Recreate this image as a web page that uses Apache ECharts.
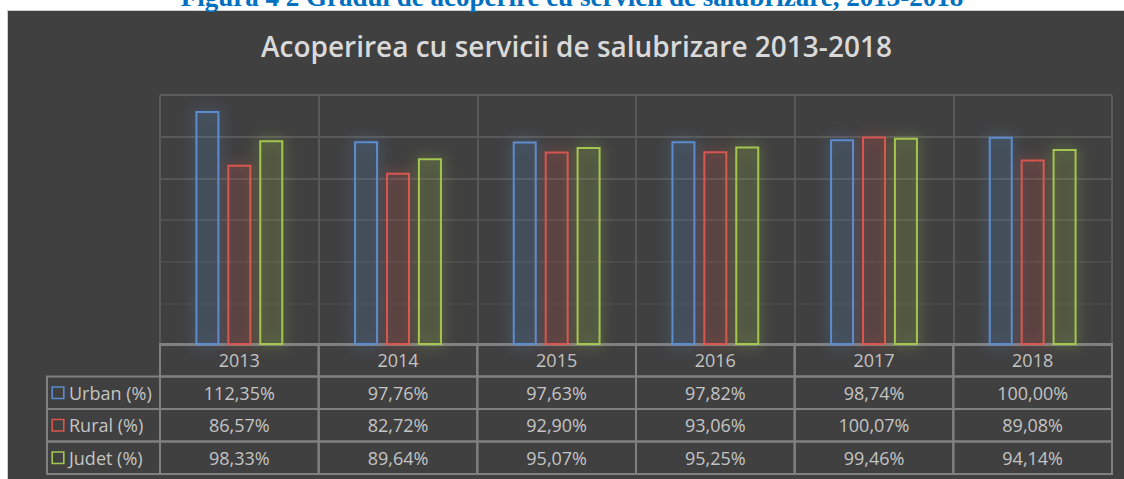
<!DOCTYPE html>
<html><head><meta charset="utf-8">
<script src="https://cdn.jsdelivr.net/npm/echarts@6/dist/echarts.min.js"></script>
<style>html,body{margin:0;padding:0;background:#fff}#c{width:1124px;height:479px}</style>
</head><body><div id="c"></div>
<script>
const caption = 'Figura 4 2 Gradul de acoperire cu servicii de salubrizare, 2013-2018';
const chartTitle = 'Acoperirea cu servicii de salubrizare 2013-2018';
const years = ['2013', '2014', '2015', '2016', '2017', '2018'];
const seriesNames = ['Urban (%)', 'Rural (%)', 'Judet (%)'];
const urban = [112.35, 97.76, 97.63, 97.82, 98.74, 100.00];
const rural = [86.57, 82.72, 92.90, 93.06, 100.07, 89.08];
const judet = [98.33, 89.64, 95.07, 95.25, 99.46, 94.14];
const yMin = 0, yMax = 120, yStep = 20;

const colors = ['#5b8dd0', '#d9554f', '#a3c650'];
const glow = ['rgba(91,141,208,0.85)', 'rgba(217,85,79,0.85)', 'rgba(163,198,80,0.85)'];
const tint = ['rgba(91,141,208,0.07)', 'rgba(217,85,79,0.07)', 'rgba(163,198,80,0.07)'];
const values = [urban, rural, judet];
const fmt = v => v.toFixed(2).replace('.', ',') + '%';

// table cells: row 0 = years, rows 1..3 = series values
const cells = [];
const cellTexts = [];
years.forEach((y, c) => { cells.push([c, 0]); cellTexts.push(y); });
values.forEach((arr, r) => arr.forEach((v, c) => { cells.push([c, r + 1]); cellTexts.push(fmt(v)); }));

const tableLine = '#808080';
const textColor = '#c4c4c4';
const font = '"Open Sans", "Noto Sans", sans-serif';

const rich = { t: { color: textColor, fontSize: 18, fontFamily: font, padding: [0, 0, 0, 6] } };
colors.forEach((c, i) => { rich['k' + (i + 1)] = { width: 10, height: 10, borderColor: c, borderWidth: 1.6, backgroundColor: '#404040' }; });

const chart = echarts.init(document.getElementById('c'), null, { renderer: 'svg' });
chart.setOption({
  backgroundColor: '#ffffff',
  animation: false,
  title: {
    text: chartTitle, left: 256, top: 27,
    textStyle: { color: '#d9d9d9', fontFamily: font, fontWeight: 600, fontSize: 28 }
  },
  graphic: [
    { type: 'rect', z: -10, shape: { x: 7.5, y: 10.5, width: 1130, height: 480 },
      style: { fill: '#404040', stroke: '#cfcfcf', lineWidth: 1 } },
    { type: 'text', z: 10, x: 572, y: 10,
      style: { text: caption, align: 'center', verticalAlign: 'bottom', fill: '#0070c0',
        fontFamily: '"Liberation Serif", "DejaVu Serif", serif', fontWeight: 'bold', fontSize: 27 } }
  ],
  grid: [
    { left: 160, right: 12, top: 95, height: 250 },
    { left: 160, right: 12, top: 344, height: 130 }
  ],
  xAxis: [
    { type: 'category', gridIndex: 0, data: years, axisLine: { show: false }, axisTick: { show: false },
      axisLabel: { show: false },
      splitLine: { show: true, lineStyle: { color: '#595959', width: 2 } } },
    { type: 'category', gridIndex: 1, data: years, axisLine: { show: false }, axisTick: { show: false },
      axisLabel: { show: false }, splitLine: { show: false } }
  ],
  yAxis: [
    { type: 'value', gridIndex: 0, min: yMin, max: yMax, interval: yStep,
      axisLine: { show: false }, axisTick: { show: false }, axisLabel: { show: false },
      splitLine: { show: true, lineStyle: { width: 2,
        color: ['#808080', '#464646', '#4a4a4a', '#505050', '#555555', '#595959', '#5c5c5c'] } } },
    { type: 'category', gridIndex: 1, inverse: true, data: [''].concat(seriesNames),
      axisLine: { show: false }, axisTick: { show: false }, splitLine: { show: false },
      axisLabel: { show: true, align: 'left', margin: 107, rich: rich,
        formatter: (v, i) => i === 0 ? '' : '{k' + i + '| }{t|' + v + '}' } }
  ],
  series: seriesNames.map((name, i) => ({
    name: name, type: 'bar', xAxisIndex: 0, yAxisIndex: 0,
    data: values[i], barWidth: 24, barGap: '33%',
    itemStyle: { color: tint[i], borderColor: colors[i], borderWidth: 2,
      shadowBlur: 14, shadowColor: glow[i] },
    emphasis: { disabled: true }
  })).concat([{
    type: 'custom', xAxisIndex: 1, yAxisIndex: 1, data: cells, clip: false, silent: true,
    renderItem: (params, api) => {
      const c = api.value(0), r = api.value(1);
      const p = api.coord([c, r]);
      const s = api.size([1, 1]);
      const x0 = p[0] - s[0] / 2, y0 = p[1] - s[1] / 2;
      const children = [
        { type: 'rect', shape: { x: x0, y: y0, width: s[0], height: s[1] },
          style: { fill: 'none', stroke: tableLine, lineWidth: 2 } },
        { type: 'text', style: { text: cellTexts[params.dataIndex], x: p[0], y: p[1],
          align: 'center', verticalAlign: 'middle', fill: textColor, fontSize: 18, fontFamily: font } }
      ];
      if (c === 0 && r > 0) {
        children.push({ type: 'rect', shape: { x: x0 - 113, y: y0, width: 113, height: s[1] },
          style: { fill: 'none', stroke: tableLine, lineWidth: 2 } });
      }
      return { type: 'group', children: children };
    }
  }])
});
</script>
</body></html>
